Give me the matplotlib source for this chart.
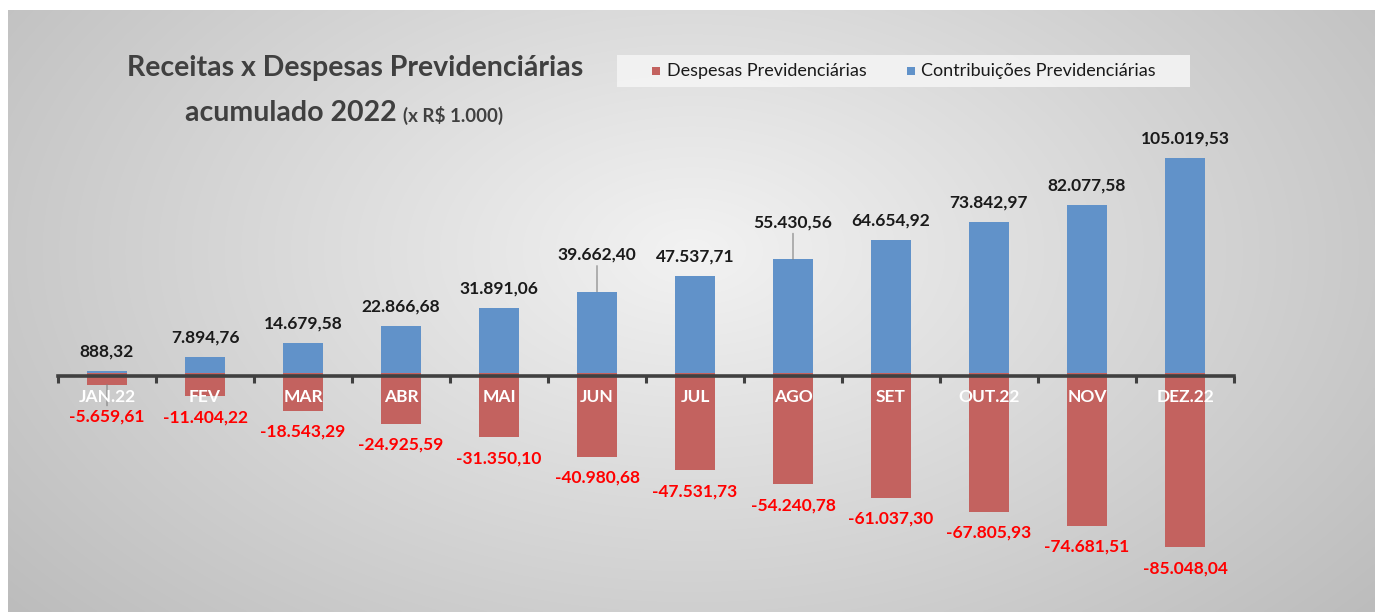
import numpy as np
import matplotlib.pyplot as plt
from matplotlib.patches import Rectangle

# data (x R$ 1.000)
meses = ["JAN.22", "FEV", "MAR", "ABR", "MAI", "JUN", "JUL", "AGO", "SET", "OUT.22", "NOV", "DEZ.22"]
contribuicoes = [888.32, 7894.76, 14679.58, 22866.68, 31891.06, 39662.40, 47537.71,
                 55430.56, 64654.92, 73842.97, 82077.58, 105019.53]
despesas = [-5659.61, -11404.22, -18543.29, -24925.59, -31350.10, -40980.68, -47531.73,
            -54240.78, -61037.30, -67805.93, -74681.51, -85048.04]

def fmt(v):
    s = f"{v:,.2f}"
    return s.replace(",", "X").replace(".", ",").replace("X", ".")

W, H = 1375, 612
fig = plt.figure(figsize=(W / 100, H / 100), dpi=100)
fig.patch.set_facecolor("white")

# radial gradient background
bg = fig.add_axes([8 / W, 0, 1 - 8 / W, 1 - 10 / H])
yy, xx = np.mgrid[0:300, 0:680]
r = np.sqrt(((xx - 340) / 420.0) ** 2 + ((yy - 120) / 260.0) ** 2)
g = np.clip(0.95 - 0.2 * r, 0.72, 0.95)
bg.imshow(np.dstack([g, g, g]), aspect="auto", interpolation="bilinear")
bg.axis("off")

ax = fig.add_axes([58 / W, 1 - 600 / H, (1234 - 58) / W, (600 - 130) / H])
ax.patch.set_alpha(0)
x = np.arange(len(meses))
azul = "#6192C9"
verm = "#C3625F"
ax.bar(x, despesas, width=0.4, color=verm, zorder=2)
ax.bar(x, contribuicoes, width=0.4, color=azul, zorder=2)
ax.set_xlim(-0.5, 11.5)
ax.set_ylim(-110732, 118537)

for s in ["top", "right", "left"]:
    ax.spines[s].set_visible(False)
ax.spines["bottom"].set_position(("data", -1500))
ax.spines["bottom"].set_color("#404040")
ax.spines["bottom"].set_linewidth(2.6)
ax.spines["bottom"].set_zorder(3)
ax.set_yticks([])
ax.set_xticks(np.arange(-0.5, 12, 1))
ax.set_xticklabels([])
ax.tick_params(axis="x", direction="out", length=5, width=2.2, color="#404040")

fnt = "Lato"
for i, m in enumerate(meses):
    ax.text(i, -11500, m, ha="center", va="center", color="white",
            fontsize=12.5, fontweight="bold", family=fnt, zorder=6)

raised = {5, 7}
for i, v in enumerate(contribuicoes):
    off = 26.5 if i in raised else 14
    ap = dict(arrowstyle="-", color="#7f7f7f", lw=0.8, shrinkA=0, shrinkB=0) if i in raised else None
    ax.annotate(fmt(v), (i, v), xytext=(0, off), textcoords="offset points",
                ha="center", va="center", fontsize=12.5, fontweight="bold",
                family=fnt, color="#1a1a1a", arrowprops=ap, zorder=4)
for i, v in enumerate(despesas):
    off = 23 if i == 0 else 15
    ap = dict(arrowstyle="-", color="#7f7f7f", lw=0.8, shrinkA=0, shrinkB=0) if i == 0 else None
    ax.annotate(fmt(v), (i, v), xytext=(0, -off), textcoords="offset points",
                ha="center", va="center", fontsize=12.5, fontweight="bold",
                family=fnt, color="#ff0000", arrowprops=ap, zorder=4)

# title
fig.text(355 / W, 1 - 68 / H, "Receitas x Despesas Previdenciárias", ha="center", va="center",
         fontsize=20.5, fontweight="bold", family=fnt, color="#404040")
fig.text(397 / W, 1 - 113 / H, "acumulado 2022", ha="right", va="center",
         fontsize=20.5, fontweight="bold", family=fnt, color="#404040")
fig.text(403 / W, 1 - 115 / H, "(x R$ 1.000)", ha="left", va="center",
         fontsize=13.5, fontweight="bold", family=fnt, color="#404040")

# legend
fig.patches.append(Rectangle((617 / W, 1 - 87 / H), (1190 - 617) / W, 32 / H,
                             transform=fig.transFigure, facecolor="#f4f4f4",
                             edgecolor="none", alpha=0.9))
ly = 1 - 71 / H
fig.patches.append(Rectangle((652 / W, ly - 4 / H), 8 / W, 8 / H,
                             transform=fig.transFigure, facecolor=verm, edgecolor="none"))
fig.text(667 / W, ly, "Despesas Previdenciárias", ha="left", va="center",
         fontsize=13, family=fnt, color="#1a1a1a")
fig.patches.append(Rectangle((907 / W, ly - 4 / H), 8 / W, 8 / H,
                             transform=fig.transFigure, facecolor=azul, edgecolor="none"))
fig.text(921 / W, ly, "Contribuições Previdenciárias", ha="left", va="center",
         fontsize=13, family=fnt, color="#1a1a1a")

fig.savefig("out.png", dpi=100)
